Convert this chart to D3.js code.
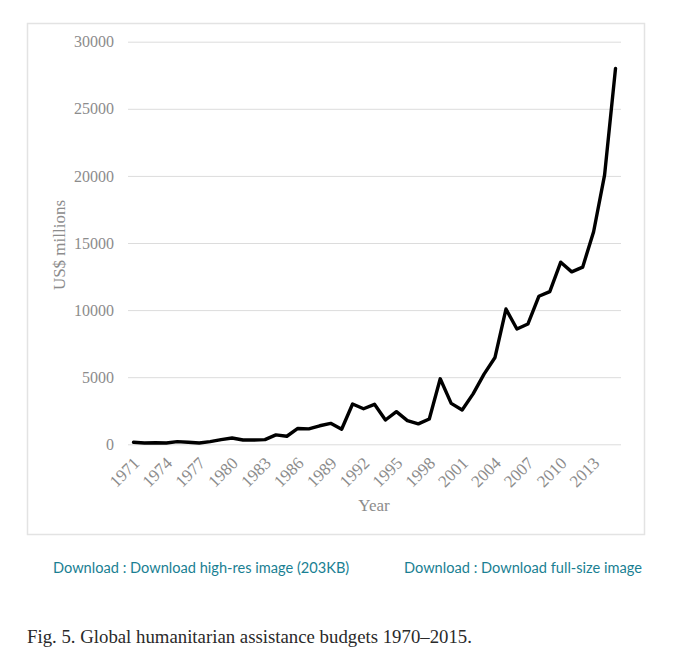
<!DOCTYPE html>
<html>
<head>
<meta charset="utf-8">
<script src="https://cdn.jsdelivr.net/npm/d3@7"></script>
<style>
  body { margin: 0; background: #fff; }
</style>
</head>
<body>
<div id="chart"></div>
<script>
var width  = 680;
var height = 659;

// years on the category axis, 1971 - 2015
var years = [];
for (var yr = 1971; yr <= 2015; yr++) years.push(yr);

// global humanitarian assistance, US$ millions
var budgets = [150, 100, 120, 100, 200, 150, 100, 200, 350, 470,
               320, 320, 350, 700, 600, 1180, 1150, 1380, 1560, 1120,
               3000, 2650, 2980, 1810, 2430, 1760, 1520, 1890, 4880, 3050,
               2560, 3760, 5230, 6470, 10080, 8590, 8960, 11030, 11380, 13570,
               12850, 13200, 15840, 20060, 28010];

var yTicks = [0, 5000, 10000, 15000, 20000, 25000, 30000];

var svg = d3.select("#chart").append("svg")
    .attr("width", width)
    .attr("height", height);

svg.append("rect")
    .attr("x", 0).attr("y", 0)
    .attr("width", width).attr("height", height)
    .attr("fill", "#fff");

// chart frame
svg.append("rect")
    .attr("x", 27.5).attr("y", 23.5)
    .attr("width", 617).attr("height", 511)
    .attr("fill", "#fff")
    .attr("stroke", "#e3e3e3")
    .attr("stroke-width", 1.5);

var x = d3.scaleBand()
    .domain(years)
    .range([128, 621]);

var y = d3.scaleLinear()
    .domain([0, 30000])
    .range([444.3, 41.7]);

var axisFont = "'Liberation Serif', 'DejaVu Serif', serif";
var grey = "#8c8c8c";

// gridlines + y labels
var yAxis = d3.axisLeft(y)
    .tickValues(yTicks)
    .tickSize(-(621 - 128))
    .tickPadding(14)
    .tickFormat(d3.format("d"));

var gy = svg.append("g")
    .attr("transform", "translate(128,0)")
    .call(yAxis);

gy.select(".domain").remove();
gy.selectAll(".tick line")
    .attr("stroke", "#dcdcdc")
    .attr("stroke-width", 1);
gy.selectAll(".tick text")
    .attr("fill", grey)
    .style("font-family", axisFont)
    .style("font-size", "16px");

// x labels, every third year, rotated
var xAxis = d3.axisBottom(x)
    .tickValues(years.filter(function(d, i) { return i % 3 === 0; }))
    .tickSize(0)
    .tickPadding(0);

var gx = svg.append("g")
    .attr("transform", "translate(0,444.3)")
    .call(xAxis);

gx.select(".domain").remove();
gx.selectAll(".tick text")
    .attr("fill", grey)
    .style("font-family", axisFont)
    .style("font-size", "17px")
    .attr("text-anchor", "end")
    .attr("dy", "0")
    .attr("y", 0)
    .attr("transform", "translate(7,20) rotate(-45)");

// data line
var line = d3.line()
    .x(function(d, i) { return x(years[i]) + x.bandwidth() / 2; })
    .y(function(d) { return y(d); });

svg.append("path")
    .datum(budgets)
    .attr("d", line)
    .attr("fill", "none")
    .attr("stroke", "#000")
    .attr("stroke-width", 3.4)
    .attr("stroke-linejoin", "round")
    .attr("stroke-linecap", "round");

// axis titles
svg.append("text")
    .attr("x", 374).attr("y", 511)
    .attr("text-anchor", "middle")
    .attr("fill", grey)
    .style("font-family", axisFont)
    .style("font-size", "17px")
    .text("Year");

svg.append("text")
    .attr("transform", "translate(65,245) rotate(-90)")
    .attr("text-anchor", "middle")
    .attr("fill", grey)
    .style("font-family", axisFont)
    .style("font-size", "17px")
    .text("US$ millions");

// links under the figure
var linkFont = "Lato, 'Open Sans', sans-serif";
svg.append("text")
    .attr("x", 53).attr("y", 573)
    .attr("fill", "#1a7f93")
    .style("font-family", linkFont)
    .style("font-size", "14.6px")
    .text("Download : Download high-res image (203KB)");

svg.append("text")
    .attr("x", 404).attr("y", 573)
    .attr("fill", "#1a7f93")
    .style("font-family", linkFont)
    .style("font-size", "14.6px")
    .text("Download : Download full-size image");

// caption
svg.append("text")
    .attr("x", 27).attr("y", 643)
    .attr("fill", "#2a2a2a")
    .style("font-family", axisFont)
    .style("font-size", "18.8px")
    .text("Fig. 5. Global humanitarian assistance budgets 1970\u20132015.");
</script>
</body>
</html>
